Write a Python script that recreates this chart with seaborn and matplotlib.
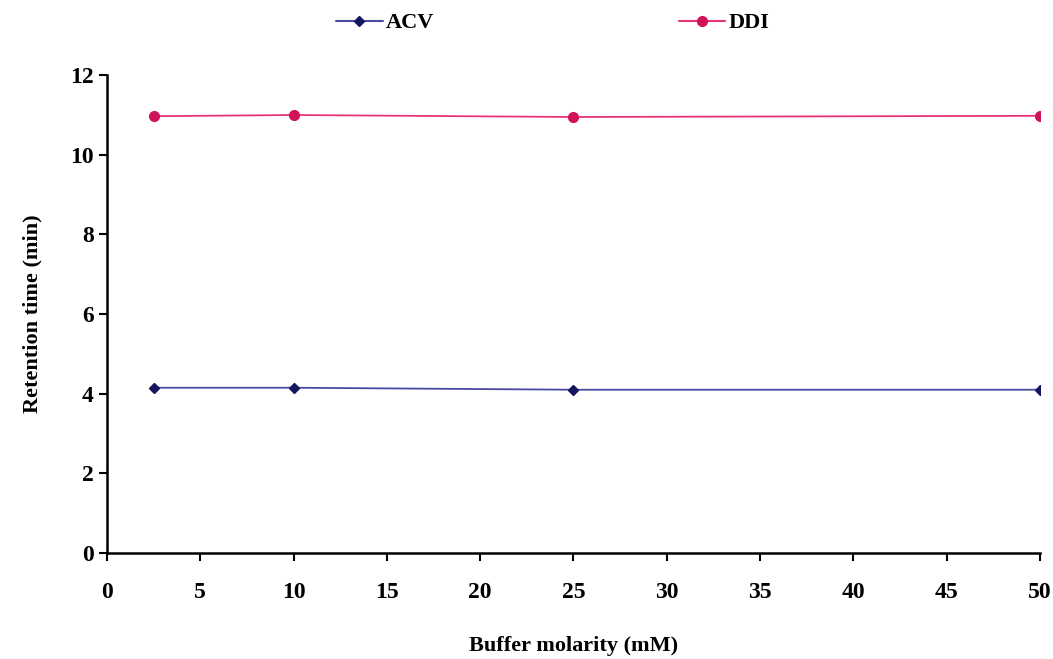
import numpy as np
import pandas as pd
import matplotlib
matplotlib.use('Agg')
import matplotlib.pyplot as plt
import seaborn as sns
from matplotlib.lines import Line2D

# data
molarity = [2.5, 10, 25, 50]
acv = [4.15, 4.15, 4.1, 4.1]
ddi = [10.97, 11.0, 10.95, 10.98]

df = pd.DataFrame({
    'Buffer molarity (mM)': molarity * 2,
    'Retention time (min)': acv + ddi,
    'Drug': ['ACV'] * len(molarity) + ['DDI'] * len(molarity),
})

sns.set_style('white')
plt.rcParams['font.family'] = ['Liberation Serif', 'DejaVu Serif']
plt.rcParams['font.weight'] = 'bold'
plt.rcParams['text.color'] = 'black'
plt.rcParams['axes.labelcolor'] = 'black'

fig = plt.figure(figsize=(10.53, 6.59), dpi=100)
ax = fig.add_axes([0.1016, 0.1609, 0.886, 0.725])

palette = {'ACV': '#4a4aa0', 'DDI': '#e8347a'}
sns.lineplot(data=df, x='Buffer molarity (mM)', y='Retention time (min)', hue='Drug',
             palette=palette, ax=ax, linewidth=1.3, legend=False)
ax.plot(molarity, acv, linestyle='none', marker='D', markersize=5,
        color='#151560')
ax.plot(molarity, ddi, linestyle='none', marker='o', markersize=7,
        color='#d01258')

ax.set_xlim(0, 50)
ax.set_ylim(0, 12)
ax.set_xticks(range(0, 51, 5))
ax.set_yticks(range(0, 13, 2))
ax.tick_params(axis='both', direction='out', length=6, width=1.5,
               labelsize=17, colors='black', left=True, bottom=True)
ax.tick_params(axis='x', pad=15)
for lab in ax.get_xticklabels() + ax.get_yticklabels():
    lab.set_fontweight('bold')
for s in ['top', 'right']:
    ax.spines[s].set_visible(False)
for s in ['left', 'bottom']:
    ax.spines[s].set_color('black')
    ax.spines[s].set_linewidth(1.8)

ax.set_xlabel('Buffer molarity (mM)', fontsize=16, fontweight='bold', labelpad=24)
ax.set_ylabel('Retention time (min)', fontsize=16, fontweight='bold', labelpad=20)

handles = [
    Line2D([], [], color='#4a4aa0', marker='D', markersize=5,
           markerfacecolor='#151560', markeredgecolor='#151560', linewidth=1.5),
    Line2D([], [], color='#e8347a', marker='o', markersize=7,
           markerfacecolor='#d01258', markeredgecolor='#d01258', linewidth=1.5),
]
fig.legend(handles, ['ACV', 'DDI'], loc='center', bbox_to_anchor=(0.525, 0.965),
           ncol=2, frameon=False, columnspacing=11, handlelength=2.1,
           handletextpad=0.15, prop={'size': 16, 'weight': 'bold'})

fig.savefig('out.png', dpi=100, facecolor='white')
